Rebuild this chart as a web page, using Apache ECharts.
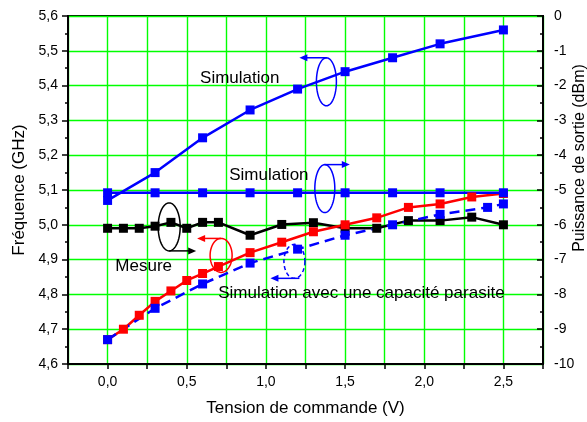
<!DOCTYPE html>
<html><head><meta charset="utf-8">
<script src="https://cdn.jsdelivr.net/npm/echarts@6/dist/echarts.min.js"></script>
<style>html,body{margin:0;padding:0;background:#fff}#c{width:587px;height:422px}</style>
</head><body><div id="c"></div><script>
// ---- data ----
const simFreqV   = [0, 0.3, 0.6, 0.9, 1.2, 1.5, 1.8, 2.1, 2.5];
const simFreqGHz = [5.07, 5.15, 5.25, 5.33, 5.39, 5.44, 5.48, 5.52, 5.56];
const simPowV    = [0, 0.3, 0.6, 0.9, 1.2, 1.5, 1.8, 2.1, 2.5];
const simPowDBm  = [-5.08, -5.08, -5.08, -5.08, -5.08, -5.08, -5.08, -5.08, -5.08];
const mesV       = [0, 0.1, 0.2, 0.3, 0.4, 0.5, 0.6, 0.7, 0.9, 1.1, 1.3, 1.5, 1.7, 1.9, 2.1, 2.3, 2.5];
const mesPowDBm  = [-6.1, -6.1, -6.1, -6.04, -5.93, -6.1, -5.93, -5.93, -6.3, -5.99, -5.94, -6.1, -6.1, -5.88, -5.88, -5.78, -6.0];
const mesFreqGHz = [4.67, 4.70, 4.74, 4.78, 4.81, 4.84, 4.86, 4.88, 4.92, 4.95, 4.98, 5.00, 5.02, 5.05, 5.06, 5.08, 5.09];
const parV       = [0, 0.3, 0.6, 0.9, 1.2, 1.5, 1.8, 2.1, 2.4, 2.5];
const parFreqGHz = [4.67, 4.76, 4.83, 4.89, 4.93, 4.97, 5.00, 5.03, 5.05, 5.06];

const xTitle = 'Tension de commande (V)';
const yLeftTitle = 'Fréquence (GHz)';
const yRightTitle = 'Puissance de sortie (dBm)';

// annotations, anchored in data coordinates (V, GHz)
const notes = [
  {text: 'Simulation', v: 0.584, f: 5.422},
  {text: 'Simulation', v: 0.768, f: 5.142},
  {text: 'Mesure', v: 0.049, f: 4.881},
  {text: 'Simulation avec une capacité parasite', v: 0.699, f: 4.804}
];
const ellipses = [
  {v: 1.382, f: 5.411, rx: 10, ry: 24, color: '#0000ff', dash: false, side: -1, len: 27, dir: -1, off: 0},
  {v: 1.372, f: 5.104, rx: 10, ry: 24, color: '#0000ff', dash: false, side: -1, len: 25, dir: 1, off: 0},
  {v: 0.389, f: 4.994, rx: 11, ry: 24, color: '#000000', dash: false, side: 1, len: 27, dir: 1, off: 0},
  {v: 0.717, f: 4.912, rx: 11, ry: 17, color: '#ff0000', dash: false, side: -1, len: 24, dir: -1, off: 0},
  {v: 1.180, f: 4.895, rx: 10.5, ry: 17, color: '#0000ff', dash: true, side: 1, len: 29, dir: -1, off: 5}
];

const FONT = '"Liberation Sans", Arial, sans-serif';
const pairs = (xs, ys) => xs.map((x, i) => [x, ys[i]]);
const comma = v => v.toFixed(1).replace('.', ',');

const chart = echarts.init(document.getElementById('c'));
const mk = (name, xs, ys, color, yIdx, dashed) => ({
  name, type: 'line', yAxisIndex: yIdx, data: pairs(xs, ys),
  symbol: 'rect', symbolSize: 9, showSymbol: true,
  itemStyle: {color: color},
  lineStyle: {color: color, width: 2.5, type: dashed ? [10, 6] : 'solid'},
  animation: false
});
const GRID_GREEN = {color: '#00ff00', width: 1.4};

chart.setOption({
  animation: false,
  grid: {left: 68, right: 44, top: 16, bottom: 57, show: true, borderColor: '#000', borderWidth: 2},
  xAxis: {
    type: 'value', min: -0.25, max: 2.75, interval: 0.25,
    axisLine: {show: true, onZero: false, lineStyle: {color: '#000', width: 2}},
    axisTick: {show: true, inside: false, length: 5, lineStyle: {color: '#000', width: 1.5}},
    splitLine: {show: true, lineStyle: GRID_GREEN},
    axisLabel: {
      margin: 11, color: '#000', fontSize: 14, fontFamily: FONT,
      formatter: v => (Math.abs(v * 2 - Math.round(v * 2)) < 1e-6 ? comma(v) : '')
    },
    name: xTitle, nameLocation: 'middle', nameGap: 36,
    nameTextStyle: {fontSize: 17, color: '#000', fontFamily: FONT}
  },
  yAxis: [
    {
      type: 'value', position: 'left', min: 4.6, max: 5.6, interval: 0.1,
      axisLine: {show: true, onZero: false, lineStyle: {color: '#000', width: 2}},
      axisTick: {show: true, inside: false, length: 6, lineStyle: {color: '#000', width: 1.5}},
      minorTick: {show: true, splitNumber: 2, length: 3, lineStyle: {color: '#000', width: 1.5}},
      splitLine: {show: true, lineStyle: GRID_GREEN},
      axisLabel: {margin: 10, color: '#000', fontSize: 14, fontFamily: FONT, formatter: v => comma(v)},
      name: yLeftTitle, nameLocation: 'middle', nameGap: 33,
      nameTextStyle: {fontSize: 17, color: '#000', fontFamily: FONT}
    },
    {
      type: 'value', position: 'right', min: -10, max: 0, interval: 1,
      axisLine: {show: true, onZero: false, lineStyle: {color: '#000', width: 2}},
      axisTick: {show: true, inside: true, length: 6, lineStyle: {color: '#000', width: 1.5}},
      minorTick: {show: true, splitNumber: 2, length: 3, lineStyle: {color: '#000', width: 1.5}},
      splitLine: {show: false},
      axisLabel: {margin: 11, color: '#000', fontSize: 14, fontFamily: FONT}
    }
  ],
  series: [
    mk('Mesure P', mesV, mesPowDBm, '#000000', 1, false),
    mk('Mesure F', mesV, mesFreqGHz, '#ff0000', 0, false),
    mk('Sim par', parV, parFreqGHz, '#0000ff', 0, true),
    mk('Sim P', simPowV, simPowDBm, '#0000ff', 1, false),
    mk('Sim F', simFreqV, simFreqGHz, '#0000ff', 0, false)
  ]
});

// ---- annotations ----
const px = (v, f) => chart.convertToPixel({xAxisIndex: 0, yAxisIndex: 0}, [v, f]);
const g = [];
notes.forEach(n => {
  const p = px(n.v, n.f);
  g.push({type: 'text', x: p[0], y: p[1], z: 100,
    style: {text: n.text, font: '17px ' + FONT, fill: '#000', textAlign: 'left', textVerticalAlign: 'middle', verticalAlign: 'middle'}});
});
ellipses.forEach(e => {
  const c = px(e.v, e.f);
  const pts = [];
  for (let i = 0; i < 64; i++) {
    const a = i / 64 * Math.PI * 2;
    pts.push([c[0] + e.rx * Math.cos(a), c[1] + e.ry * Math.sin(a)]);
  }
  g.push({type: 'polygon', z: 100, shape: {points: pts},
    style: {fill: 'none', stroke: e.color, lineWidth: 1.5, lineDash: e.dash ? [4, 3] : null}});
  const y = c[1] + e.side * e.ry;
  const x1 = c[0] + e.off;
  const x2 = x1 + e.dir * e.len;
  g.push({type: 'line', z: 100, shape: {x1: x1, y1: y, x2: x2 - e.dir * 4, y2: y},
    style: {stroke: e.color, lineWidth: 1.5}});
  g.push({type: 'polygon', z: 100, shape: {points: [[x2, y], [x2 - e.dir * 8, y - 3.5], [x2 - e.dir * 8, y + 3.5]]},
    style: {fill: e.color, stroke: 'none'}});
});
g.push({type: 'text', x: 580, y: 158, rotation: Math.PI / 2, z: 100,
  style: {text: yRightTitle, font: '16px ' + FONT, fill: '#000', textAlign: 'center', textVerticalAlign: 'middle', verticalAlign: 'middle'}});
chart.setOption({graphic: g});
</script></body></html>
